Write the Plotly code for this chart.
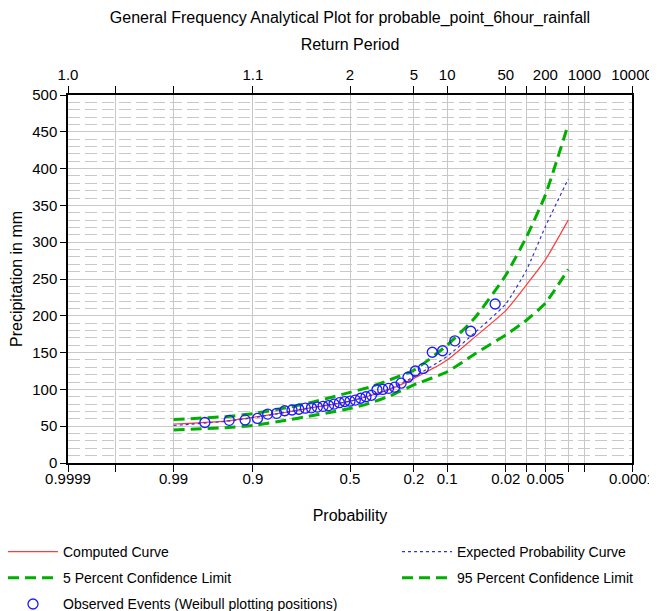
import plotly.graph_objects as go
from statistics import NormalDist

# ---------------- data ----------------
curve_prob = [0.99, 0.95, 0.9, 0.8, 0.7, 0.6, 0.5, 0.4, 0.3, 0.2, 0.1, 0.05, 0.02, 0.01, 0.005, 0.002]
computed_curve = [53, 57, 62, 69, 75, 79, 84, 91, 100, 115, 140, 171, 207, 242, 276, 330]
expected_curve = [51, 56.5, 61.5, 69, 75, 79.5, 84, 91.5, 101, 117, 145, 177, 216, 262, 321, 386]
conf_limit_05 = [59, 63, 67, 75, 82, 89, 96, 103, 113, 126, 160, 197, 255, 307, 364, 460]
conf_limit_95 = [45, 48, 51, 58, 64, 69, 74, 81, 91, 106, 124, 148, 174, 194, 217, 263]

observed_prob = [0.0278, 0.0556, 0.0833, 0.1111, 0.1389, 0.1667, 0.1944, 0.2222, 0.25, 0.2778,
                 0.3056, 0.3333, 0.3611, 0.3889, 0.4167, 0.4444, 0.4722, 0.5, 0.5278, 0.5556,
                 0.5833, 0.6111, 0.6389, 0.6667, 0.6944, 0.7222, 0.75, 0.7778, 0.8056, 0.8333,
                 0.8611, 0.8889, 0.9167, 0.9444, 0.9722]
observed_mm = [216, 179, 166, 152.5, 150.5, 128.5, 125, 116.5, 108.5, 103,
               101.5, 100, 99.5, 92, 90, 88, 85.5, 84, 83.5, 82,
               80, 78, 77, 76, 75, 74.5, 73, 72, 71, 67.5,
               66.5, 60.5, 58.5, 58, 55]

tick_prob = [0.9999, 0.999, 0.99, 0.9, 0.5, 0.2, 0.1, 0.02, 0.01, 0.005, 0.002, 0.001, 0.0001]
prob_labels = ["0.9999", "", "0.99", "0.9", "0.5", "0.2", "0.1", "0.02", "", "0.005", "", "", "0.0001"]
return_labels = ["1.0", "", "", "1.1", "2", "5", "10", "50", "", "200", "", "1000", "10000"]

# ---------------- probability (normal) scale ----------------
nd = NormalDist()


def zscale(ps):
    return [nd.inv_cdf(1 - p) for p in ps]


zc = zscale(curve_prob)
zo = zscale(observed_prob)
zt = zscale(tick_prob)
xmin, xmax = zt[0], zt[-1]

FONT = "Liberation Sans, Arial, sans-serif"
RED = "#ff3b3b"
BLUE = "#3333cc"
GREEN = "#00b000"
GRID = "#c8c8c8"
# the page adds an 8px body margin, so the figure is 8px smaller than the window
W, H = 649, 603
ML, MR, MT, MB = 60, 25, 87, 148
PW, PH = W - ML - MR, H - MT - MB

fig = go.Figure()

fig.add_trace(go.Scatter(x=zc, y=computed_curve, mode="lines", name="Computed Curve",
                         line=dict(color=RED, width=1.2, shape="spline", smoothing=0.5),
                         legend="legend", legendgroup="a"))
fig.add_trace(go.Scatter(x=zc, y=conf_limit_05, mode="lines", name="5 Percent Confidence Limit",
                         line=dict(color=GREEN, width=3, dash="11px,6px", shape="spline", smoothing=0.5),
                         legend="legend", legendgroup="b"))
fig.add_trace(go.Scatter(x=zc, y=expected_curve, mode="lines", name="Expected Probability Curve",
                         line=dict(color=BLUE, width=1.2, dash="3px,3px", shape="spline", smoothing=0.5),
                         legend="legend2", legendgroup="c"))
fig.add_trace(go.Scatter(x=zc, y=conf_limit_95, mode="lines", name="95 Percent Confidence Limit",
                         line=dict(color=GREEN, width=3, dash="11px,6px", shape="spline", smoothing=0.5),
                         legend="legend2", legendgroup="d"))
fig.add_trace(go.Scatter(x=zo, y=observed_mm, mode="markers",
                         name="Observed Events (Weibull plotting positions)",
                         marker=dict(symbol="circle-open", size=10, color="#1a1aff", line=dict(width=1.3)),
                         legend="legend", legendgroup="e"))
# invisible trace to attach the top (return period) axis
fig.add_trace(go.Scatter(x=zo, y=observed_mm, xaxis="x2", mode="markers", opacity=0,
                         showlegend=False, hoverinfo="skip"))

legend_common = dict(orientation="v", font=dict(size=14), tracegroupgap=5, itemwidth=50,
                     bgcolor="rgba(0,0,0,0)", xref="paper", yref="paper",
                     xanchor="left", yanchor="top")
legend_top = (MB - (528 - (H - MB)) ) / PH - MB / PH  # paper y of the legend top (fig y = 528)
legend_top = (H - MB - 528) / PH

fig.update_layout(
    width=W, height=H,
    margin=dict(l=ML, r=MR, t=MT, b=MB, autoexpand=False),
    paper_bgcolor="white", plot_bgcolor="white",
    font=dict(family=FONT, size=15, color="black"),
    title=dict(text="General Frequency Analytical Plot for probable_point_6hour_rainfall",
               x=0.5, xref="paper", xanchor="center", y=1 - 9 / H, yanchor="middle",
               font=dict(size=16)),
    xaxis=dict(range=[xmin, xmax], tickmode="array", tickvals=zt, ticktext=prob_labels,
               showgrid=True, gridcolor=GRID, gridwidth=1, zeroline=False, automargin=True,
               showline=True, linecolor="black", linewidth=1.5, mirror=False,
               ticks="outside", ticklen=7, tickcolor="black", ticklabelstandoff=-6,
               title=dict(text="Probability", standoff=24, font=dict(size=16))),
    xaxis2=dict(range=[xmin, xmax], overlaying="x", side="top", anchor="y", automargin=True,
                tickmode="array", tickvals=zt, ticktext=return_labels,
                showgrid=False, zeroline=False,
                showline=True, linecolor="black", linewidth=1.5,
                ticks="outside", ticklen=7, tickcolor="black",
                title=dict(text="Return Period", standoff=12, font=dict(size=16))),
    yaxis=dict(range=[0, 500], dtick=50, showgrid=True, gridcolor=GRID, gridwidth=1,
               zeroline=False, showline=True, linecolor="black", linewidth=1.5, mirror=True,
               ticks="outside", ticklen=6, tickcolor="black", automargin=True,
               minor=dict(dtick=10, showgrid=True, gridcolor=GRID, griddash="12px,5px", gridwidth=1.3),
               title=dict(text="Precipitation in mm", standoff=8, font=dict(size=16))),
    legend=dict(x=(-5 - ML) / PW, y=legend_top, **legend_common),
    legend2=dict(x=(389 - ML) / PW, y=legend_top, **legend_common),
)

fig.write_html("out.html")
